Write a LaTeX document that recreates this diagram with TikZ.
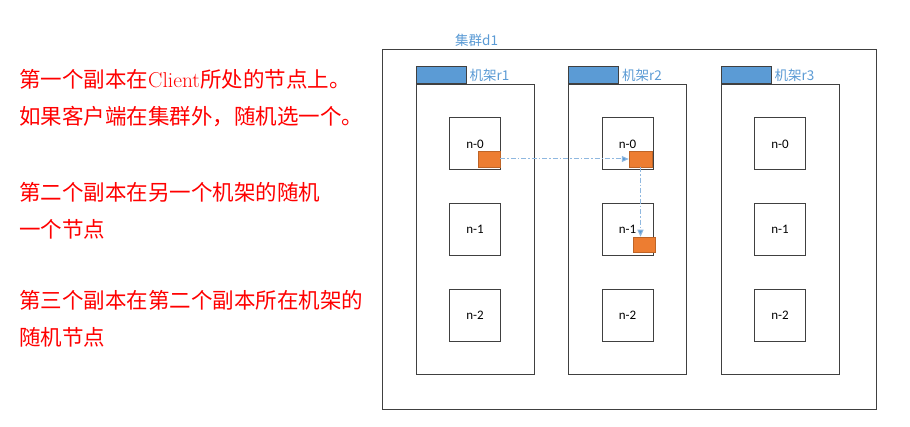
\documentclass[tikz,border=0pt]{standalone}
\usepackage{fontspec}
\newfontfamily\cjk{Noto Sans CJK SC}
\newfontfamily\calibri{Carlito}
\usetikzlibrary{arrows.meta}
\definecolor{rackblue}{HTML}{5B9BD5}
\definecolor{linkblue}{HTML}{8FB8E0}
\definecolor{blockorange}{HTML}{ED7D31}
\definecolor{edgegray}{HTML}{404040}
\definecolor{notered}{HTML}{FF0000}
\tikzset{
  box/.style={draw=edgegray, line width=1pt, fill=white, inner sep=0pt},
  rackbox/.style={box, minimum width=118pt, minimum height=290pt},
  tabbox/.style={draw=edgegray, line width=1pt, fill=rackblue, minimum width=50pt, minimum height=17pt, inner sep=0pt},
  hostbox/.style={box, minimum width=51pt, minimum height=52pt, font=\calibri\fontsize{13pt}{15pt}\selectfont},
  block/.style={draw=blockorange!80!black, line width=0.5pt, fill=blockorange, inner sep=0pt},
  bluelabel/.style={text=rackblue, inner sep=0pt, anchor=west, font=\cjk\fontsize{13.5pt}{16pt}\selectfont},
  note/.style={text=notered, inner sep=0pt, anchor=west, font=\cjk\fontsize{21.5pt}{26pt}\selectfont},
  link/.style={draw=linkblue, line width=1pt, dash pattern=on 5pt off 2pt on 1.5pt off 2pt,
    -{Triangle[length=7pt, width=6pt, fill=rackblue]}}
}
\begin{document}
\begin{tikzpicture}[x=1pt, y=-1pt]
  \useasboundingbox (0,0) rectangle (910,427);

  % 说明文字
  \node[note] (s1) at (19,79) {第一个副本在{\rmfamily Client}所处的节点上。};
  \node[note] (s2) at (19,117) {如果客户端在集群外，随机选一个。};
  \node[note] (s3) at (19,192) {第二个副本在另一个机架的随机};
  \node[note] (s4) at (19,229) {一个节点};
  \node[note] (s5) at (19,300) {第三个副本在第二个副本所在机架的};
  \node[note] (s6) at (19,337) {随机节点};

  % 集群 d1
  \node[box, minimum width=494pt, minimum height=359pt] (d1) at (629,229.5) {};
  \node[bluelabel] (d1name) at (455,40) {集群d1};

  % 机架与节点
  \foreach \i/\x in {1/475,2/627.5,3/780} {
    \node[rackbox] (r\i) at (\x,230) {};
    \node[tabbox, anchor=south west] (t\i) at (r\i.north west) {};
    \node[bluelabel, xshift=3pt] (r\i name) at (t\i.east) {机架r\i};
    \foreach \j/\y in {0/144,1/229.5,2/315.5}
      \node[hostbox] (n\i\j) at (\x,\y) {n-\j};
  }

  % 副本
  \node[block, minimum width=22pt, minimum height=16pt] (a) at (489,159) {};
  \node[block, minimum width=23pt, minimum height=16pt] (b) at (640.5,159) {};
  \node[block, minimum width=22pt, minimum height=15pt] (c) at (644,244.5) {};

  % 复制路径
  \draw[link] (a.east) -- (b.west);
  \draw[link] (b.south) -- (b.south |- c.north);
\end{tikzpicture}
\end{document}
